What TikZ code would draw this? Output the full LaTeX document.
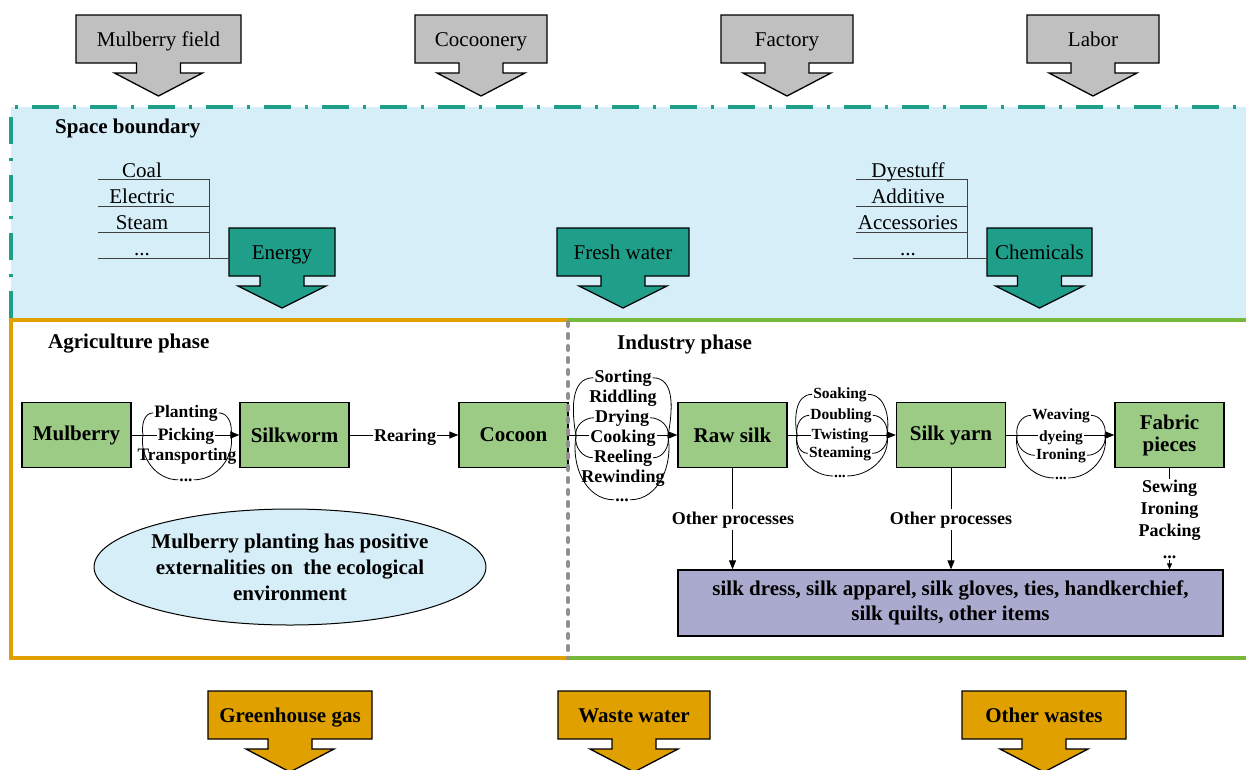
\documentclass[tikz,border=0pt]{standalone}
\usepackage{fontspec}
\setmainfont{Liberation Serif}
\usetikzlibrary{arrows.meta,shapes.geometric}
\definecolor{cgray}{HTML}{C0C0C0}
\definecolor{cblue}{HTML}{D6EEF8}
\definecolor{cteal}{HTML}{1F9E89}
\definecolor{cgreenbox}{HTML}{9CCB86}
\definecolor{cpurple}{HTML}{A9AACE}
\definecolor{corange}{HTML}{E0A100}
\definecolor{cgreenline}{HTML}{77B83B}
\definecolor{cdash}{HTML}{909090}
\newcommand\fsz[2]{\fontsize{#1}{#2}\selectfont}
% #1 name, #2 cx, #3 ytop, #4 box width, #5 fill, #6 font, #7 text, #8 head height
\newcommand\blockarrow[8]{%
  \path[draw=black, line width=1.3pt, fill=#5, line join=miter]
    ({#2-#4/2},{#3}) -- ({#2+#4/2},{#3}) -- ({#2+#4/2},{#3+48}) -- ({#2+22},{#3+48})
    -- ({#2+22},{#3+58}) -- ({#2+44},{#3+58}) -- ({#2},{#3+58+#8}) -- ({#2-44},{#3+58})
    -- ({#2-22},{#3+58}) -- ({#2-22},{#3+48}) -- ({#2-#4/2},{#3+48}) -- cycle;
  \node[minimum width=#4pt, minimum height=48pt, inner sep=0pt, text height=14pt,
        text depth=0pt, font=#6] (#1) at ({#2},{#3+24}) {#7};}
\begin{document}
\begin{tikzpicture}[x=1pt,y=-1pt,
  proc/.style={draw=black, line width=1.3pt, fill=cgreenbox, minimum width=109pt,
    minimum height=65pt, inner sep=0pt, font=\fsz{21}{21}\bfseries, align=center},
  lab/.style={inner sep=1pt, anchor=base, font=\fsz{18}{18}\bfseries},
  labm/.style={lab, font=\fsz{17.5}{17.5}\bfseries},
  labs/.style={lab, font=\fsz{15.5}{15.5}\bfseries},
  conn/.style={line width=0.8pt, draw=black},
  arr/.style={conn, -{Triangle[length=9pt,width=7pt]}},
  arrsmall/.style={conn, -{Triangle[length=6pt,width=5pt]}},
  lst/.style={line width=0.8pt, draw=black!75},
  listtxt/.style={font=\fsz{21}{21}, anchor=base, inner sep=0pt},
  title/.style={font=\fsz{21}{21}\bfseries, anchor=base west, inner sep=0pt}]
\useasboundingbox (0,0) rectangle (1246,769);

% space boundary
\fill[cblue] (11,107) rectangle (1250,320);
\draw[cteal, line width=3.6pt, dash pattern=on 27pt off 14pt on 3pt off 14pt]
  (11,318) -- (11,107) -- (1252,107);
\node[title] (sb) at (55,133) {Space boundary};

% top inputs
\blockarrow{mf}{158.5}{15}{165}{cgray}{\fsz{21}{21}}{Mulberry field}{23}
\blockarrow{coc}{481}{15}{132}{cgray}{\fsz{21}{21}}{Cocoonery}{23}
\blockarrow{fac}{787}{15}{132}{cgray}{\fsz{21}{21}}{Factory}{23}
\blockarrow{labor}{1093}{15}{132}{cgray}{\fsz{21}{21}}{Labor}{23}

% teal inputs
\blockarrow{energy}{282}{228}{106}{cteal}{\fsz{21}{21}}{Energy}{22}
\blockarrow{fresh}{623}{228}{132}{cteal}{\fsz{21}{21}}{Fresh water}{22}
\blockarrow{chem}{1039.5}{228}{105}{cteal}{\fsz{21}{21}}{Chemicals}{22}

% energy list
\node[listtxt] (coal) at (142,177) {Coal};
\node[listtxt] (elec) at (142,203) {Electric};
\node[listtxt] (steam) at (142,229) {Steam};
\node[listtxt] (edots) at (142,255) {...};
\draw[lst] (98,179) -- (209,179);
\draw[lst] (98,206) -- (209,206);
\draw[lst] (98,232) -- (209,232);
\draw[lst] (209,179) -- (209,258);
\draw[lst] (98,258) -- ([yshift=-6pt]energy.west);

% chemicals list
\node[listtxt] (dye) at (908,177) {Dyestuff};
\node[listtxt] (add) at (908,203) {Additive};
\node[listtxt] (acc) at (908,229) {Accessories};
\node[listtxt] (cdots) at (908,255) {...};
\draw[lst] (856,179) -- (967,179);
\draw[lst] (856,206) -- (967,206);
\draw[lst] (856,232) -- (967,232);
\draw[lst] (967,179) -- (967,258);
\draw[lst] (853,258) -- ([yshift=-6pt]chem.west);

% phase frames
\draw[corange, line width=3.6pt] (568,320) -- (11,320) -- (11,658) -- (568,658);
\draw[cgreenline, line width=3.6pt] (568,320) -- (1252,320) (568,658) -- (1252,658);
\node[title] (agri) at (48,348) {Agriculture phase};
\node[title] (ind) at (617,349) {Industry phase};

% process boxes
\node[proc] (mulberry) at (76.5,435) {Mulberry};
\node[proc] (silkworm) at (294.5,435) {Silkworm};
\node[proc] (cocoon) at (513.5,435) {Cocoon};
\node[proc] (rawsilk) at (732.5,435) {Raw silk};
\node[proc] (silkyarn) at (951,435) {Silk yarn};
\node[proc, font=\fsz{21}{22}\bfseries] (fabric) at (1169.5,435) {Fabric\\pieces};

% group 1
\node[labm] (g1a) at (186,417) {Planting};
\node[labm] (g1b) at (186,440) {Picking};
\node[labm] (g1c) at (187,460) {Transporting};
\node[labm] (g1d) at (186,481) {...};
\coordinate (L1) at (143,435);
\coordinate (R1) at (231,435);
\draw[conn] (mulberry.east) -- (g1b.west |- mulberry.east);
\draw[arr] (g1b.east |- mulberry.east) -- (silkworm.west);
\foreach \n in {g1a} \draw[conn] (L1) to[out=100,in=180] (\n.west) (\n.east) to[out=0,in=80] (R1);
\foreach \n in {g1d} \draw[conn] (L1) to[out=-100,in=180] (\n.west) (\n.east) to[out=0,in=-80] (R1);

% rearing
\node[lab] (rearing) at (405,441) {Rearing};
\draw[conn] (silkworm.east) -- (rearing.west |- silkworm.east);
\draw[arr] (rearing.east |- silkworm.east) -- (cocoon.west);

% group 2
\node[lab] (g2a) at (623,382) {Sorting};
\node[lab] (g2b) at (623,402) {Riddling};
\node[lab] (g2c) at (622,422) {Drying};
\node[lab] (g2d) at (623,442) {Cooking};
\node[lab] (g2e) at (623,462) {Reeling};
\node[lab] (g2f) at (623,482) {Rewinding};
\node[lab] (g2g) at (622,501) {...};
\coordinate (L2) at (576,436);
\coordinate (R2) at (668,436);
\draw[conn] (cocoon.east) -- (g2d.west |- cocoon.east);
\draw[arr] (g2d.east |- cocoon.east) -- (rawsilk.west);
\foreach \n in {g2a,g2c} \draw[conn] (L2) to[out=100,in=180] (\n.west) (\n.east) to[out=0,in=80] (R2);
\foreach \n in {g2e,g2g} \draw[conn] (L2) to[out=-100,in=180] (\n.west) (\n.east) to[out=0,in=-80] (R2);

% group 3
\node[labs] (g3a) at (840,398) {Soaking};
\node[labs] (g3b) at (841,419) {Doubling};
\node[labs] (g3c) at (840,439) {Twisting};
\node[labs] (g3d) at (840,457) {Steaming};
\node[labs] (g3e) at (840,477) {...};
\coordinate (L3) at (797,435);
\coordinate (R3) at (887,435);
\draw[conn] (rawsilk.east) -- (g3c.west |- rawsilk.east);
\draw[arr] (g3c.east |- rawsilk.east) -- (silkyarn.west);
\foreach \n in {g3a,g3b} \draw[conn] (L3) to[out=100,in=180] (\n.west) (\n.east) to[out=0,in=80] (R3);
\foreach \n in {g3d,g3e} \draw[conn] (L3) to[out=-100,in=180] (\n.west) (\n.east) to[out=0,in=-80] (R3);

% group 4
\node[labs] (g4a) at (1061,419) {Weaving};
\node[labs] (g4b) at (1061,441) {dyeing};
\node[labs] (g4c) at (1061,459) {Ironing};
\node[labs] (g4d) at (1061,479) {...};
\coordinate (L4) at (1017,435);
\coordinate (R4) at (1105,435);
\draw[conn] (silkyarn.east) -- (g4b.west |- silkyarn.east);
\draw[arr] (g4b.east |- silkyarn.east) -- (fabric.west);
\foreach \n in {g4a} \draw[conn] (L4) to[out=100,in=180] (\n.west) (\n.east) to[out=0,in=80] (R4);
\foreach \n in {g4c,g4d} \draw[conn] (L4) to[out=-100,in=180] (\n.west) (\n.east) to[out=0,in=-80] (R4);

% ellipse
\node[ellipse, draw=black, line width=1pt, fill=cblue, minimum width=374pt,
      minimum height=116pt, inner sep=0pt, align=center, font=\fsz{21}{26}\bfseries]
  (ext) at (290,567) {Mulberry planting has positive\\externalities on\ \ the ecological\\environment};

% products
\node[draw=black, line width=1.3pt, fill=cpurple, minimum width=545pt, minimum height=66pt,
      inner sep=0pt, align=center, font=\fsz{21}{25}\bfseries]
  (products) at (950.5,603) {silk dress, silk apparel, silk gloves, ties, handkerchief,\\silk quilts, other items};

% other processes
\node[lab, inner sep=2pt] (op1) at (733,524) {Other processes};
\node[lab, inner sep=2pt] (op2) at (951,524) {Other processes};
\draw[conn] (rawsilk.south) -- (op1.north -| rawsilk.south);
\draw[arr] (op1.south -| rawsilk.south) -- (products.north -| rawsilk.south);
\draw[conn] (silkyarn.south) -- (op2.north -| silkyarn.south);
\draw[arr] (op2.south -| silkyarn.south) -- (products.north -| silkyarn.south);

\node[inner sep=1pt, anchor=north, align=center, font=\fsz{18}{22}\bfseries] (sew)
  at (1169.5,479) {Sewing\\Ironing\\Packing\\...};
\draw[conn] (fabric.south) -- (sew.north);
\draw[arrsmall] (sew.south) -- (products.north -| sew.south);

% bottom outputs
\blockarrow{ghg}{290}{691}{164}{corange}{\fsz{21}{21}\bfseries}{Greenhouse gas}{23}
\blockarrow{ww}{634}{691}{152}{corange}{\fsz{21}{21}\bfseries}{Waste water}{23}
\blockarrow{ow}{1044}{691}{164}{corange}{\fsz{21}{21}\bfseries}{Other wastes}{23}

% divider
\draw[cdash, line width=4pt, line cap=round, dash pattern=on 4pt off 8pt] (568,322) -- (568,658);
\end{tikzpicture}
\end{document}
